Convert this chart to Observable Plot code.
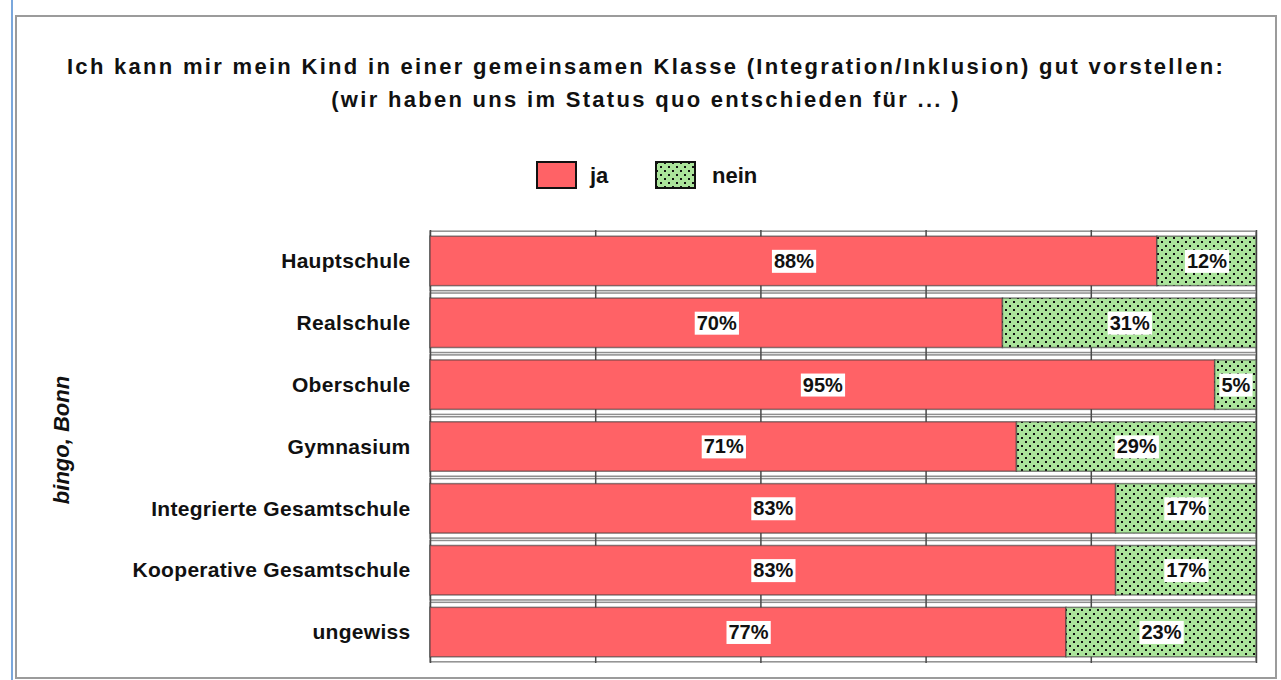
<!DOCTYPE html>
<html>
<head>
<meta charset="utf-8">
<script src="https://cdn.jsdelivr.net/npm/d3@7"></script>
<script src="https://cdn.jsdelivr.net/npm/@observablehq/plot@0.6"></script>
<style>
  html, body { margin: 0; padding: 0; background: #fff; }
  body { width: 1281px; height: 680px; position: relative; overflow: hidden; font-family: "Liberation Sans", Arial, sans-serif; }
  #blue { position: absolute; left: 11px; top: 0; width: 2px; height: 680px; background: #7aa7dc; }
  #frame { position: absolute; left: 15px; top: 15px; width: 1262px; height: 664px; border: 2px solid #9b9b9b; box-sizing: border-box; }
  #title { position: absolute; left: 15px; width: 1262px; top: 50px; text-align: center; font-weight: bold; font-size: 22px; letter-spacing: 2.3px; line-height: 33px; color: #111; }
  #chart { position: absolute; left: 0; top: 0; }
  .legend-item { position: absolute; top: 162px; font-size: 22px; font-weight: bold; color: #111; line-height: 28px; }
  .sw { position: absolute; top: 161px; width: 41px; height: 28px; box-sizing: border-box; border: 2.5px solid #111; }
  #side { position: absolute; left: 62px; top: 440px; transform: translate(-50%, -50%) rotate(-90deg); font-style: italic; font-weight: bold; font-size: 22px; color: #111; white-space: nowrap; }
</style>
</head>
<body>
<div id="blue"></div>
<div id="frame"></div>
<div id="chart"></div>
<div id="title">Ich kann mir mein Kind in einer gemeinsamen Klasse (Integration/Inklusion) gut vorstellen:<br>(wir haben uns im Status quo entschieden für ... )</div>
<div id="legend"></div>
<div id="side">bingo, Bonn</div>
<script>
const categories = ["Hauptschule", "Realschule", "Oberschule", "Gymnasium", "Integrierte Gesamtschule", "Kooperative Gesamtschule", "ungewiss"];
const jaValues = [88, 70, 95, 71, 83, 83, 77];
const neinValues = [12, 31, 5, 29, 17, 17, 23];
const answers = ["ja", "nein"];
const answerColors = ["#ff6266", "url(#dots)"];
const gridTicks = [0, 0.2, 0.4, 0.6, 0.8, 1];

const data = [];
categories.forEach((c, i) => {
  data.push({school: c, answer: "ja", value: jaValues[i]});
  data.push({school: c, answer: "nein", value: neinValues[i]});
});

const stackOpts = {y: "school", x: "value", z: "answer", offset: "normalize", order: answers};

const chart = Plot.plot({
  width: 1281,
  height: 680,
  marginLeft: 430,
  marginRight: 25,
  marginTop: 230,
  marginBottom: 17,
  style: {fontFamily: "'Liberation Sans', Arial, sans-serif", background: "transparent", color: "#111"},
  x: {domain: [0, 1], axis: null},
  y: {domain: categories, paddingInner: 0.2, paddingOuter: 0.1, round: false, axis: null},
  color: {domain: answers, range: answerColors},
  marks: [
    Plot.barX(categories, {y: d => d, x1: 0, x2: 1, insetTop: -5, insetBottom: -5, fill: "white", stroke: "#8e8e8e", strokeWidth: 1.5}),
    Plot.ruleX(gridTicks, {stroke: "#4a4a4a", strokeWidth: 1.5}),
    Plot.barX(data, Plot.stackX({...stackOpts, fill: "answer", stroke: "#3a3a3a", strokeOpacity: 0.6, strokeWidth: 1.5})),
    Plot.text(data, Plot.stackX({...stackOpts, text: d => d.value + "%", fontSize: 20, fontWeight: "bold", fill: "#111"})),
    Plot.axisY({tickSize: 0, tickPadding: 20, fontSize: 21, fontWeight: "bold", label: null, fill: "#111"})
  ]
});

document.getElementById("chart").appendChild(chart);

// pattern for "nein"
const svg = d3.select(chart);
const defs = svg.insert("defs", ":first-child");
const pat = defs.append("pattern").attr("id", "dots").attr("patternUnits", "userSpaceOnUse").attr("width", 8).attr("height", 8);
pat.append("rect").attr("width", 8).attr("height", 8).attr("fill", "#abe49b");
pat.append("rect").attr("x", 1).attr("y", 1).attr("width", 2).attr("height", 2).attr("fill", "#111");
pat.append("rect").attr("x", 5).attr("y", 5).attr("width", 2).attr("height", 2).attr("fill", "#111");

// white boxes behind value labels
const textGroup = chart.querySelector('g[aria-label="text"]');
if (textGroup) {
  textGroup.querySelectorAll("text").forEach(t => {
    const b = t.getBBox();
    const r = document.createElementNS("http://www.w3.org/2000/svg", "rect");
    r.setAttribute("x", b.x - 2);
    r.setAttribute("y", b.y);
    r.setAttribute("width", b.width + 4);
    r.setAttribute("height", b.height + 1);
    r.setAttribute("fill", "white");
    const tr = t.getAttribute("transform");
    if (tr) r.setAttribute("transform", tr);
    t.parentNode.insertBefore(r, t);
  });
}

// y-axis labels letter spacing
const yAxis = chart.querySelector('g[aria-label="y-axis tick label"]');
if (yAxis) yAxis.setAttribute("letter-spacing", "0.3");

// legend (HTML)
const legend = document.getElementById("legend");
const legendPos = [{sw: 536, tx: 590}, {sw: 655, tx: 712}];
answers.forEach((a, i) => {
  const s = document.createElement("div");
  s.className = "sw";
  s.style.left = legendPos[i].sw + "px";
  s.style.background = i === 0 ? answerColors[0] : "#abe49b";
  if (i === 1) {
    s.style.backgroundImage = "radial-gradient(#111 0.9px, transparent 1.1px), radial-gradient(#111 0.9px, transparent 1.1px)";
    s.style.backgroundSize = "8px 8px";
    s.style.backgroundPosition = "0 0, 4px 4px";
  }
  legend.appendChild(s);
  const t = document.createElement("div");
  t.className = "legend-item";
  t.style.left = legendPos[i].tx + "px";
  t.textContent = a;
  legend.appendChild(t);
});
</script>
</body>
</html>
